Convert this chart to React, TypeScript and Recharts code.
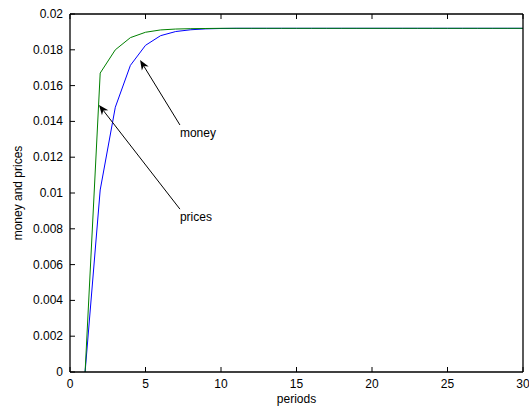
import React from "react";
import { LineChart, Line, XAxis, YAxis, ReferenceLine } from "recharts";

const periods = [
  1, 2, 3, 4, 5, 6, 7, 8, 9, 10, 11, 12, 13, 14, 15, 16, 17, 18, 19, 20, 21, 22,
  23, 24, 25, 26, 27, 28, 29, 30,
];
const prices = [
  0, 0.0167, 0.018, 0.01868, 0.01898, 0.01911, 0.01916, 0.01918, 0.01919, 0.0192,
  0.0192, 0.0192, 0.0192, 0.0192, 0.0192, 0.0192, 0.0192, 0.0192, 0.0192, 0.0192,
  0.0192, 0.0192, 0.0192, 0.0192, 0.0192, 0.0192, 0.0192, 0.0192, 0.0192, 0.0192,
];
const money = [
  0, 0.01017, 0.01479, 0.01713, 0.01825, 0.01879, 0.01902, 0.01912, 0.01917,
  0.01919, 0.0192, 0.0192, 0.0192, 0.0192, 0.0192, 0.0192, 0.0192, 0.0192, 0.0192,
  0.0192, 0.0192, 0.0192, 0.0192, 0.0192, 0.0192, 0.0192, 0.0192, 0.0192, 0.0192,
  0.0192,
];
const xTicks = [0, 5, 10, 15, 20, 25, 30];
const yTicks = [0, 0.002, 0.004, 0.006, 0.008, 0.01, 0.012, 0.014, 0.016, 0.018, 0.02];
const yTickLabels = [
  "0", "0.002", "0.004", "0.006", "0.008", "0.01", "0.012", "0.014", "0.016",
  "0.018", "0.02",
];

// annotation arrows: [tail, tip] in data units
const moneyArrow = [{ x: 7.28, y: 0.0138 }, { x: 4.64, y: 0.01743 }];
const pricesArrow = [{ x: 7.28, y: 0.0091 }, { x: 1.92, y: 0.01492 }];

const data = periods.map((p, i) => ({ period: p, prices: prices[i], money: money[i] }));

const FONT = "'Liberation Sans', Arial, Helvetica, sans-serif";
const FS = 12;
const TICK = 5;

function BottomTick({ x, y, payload }: any) {
  return (
    <g>
      <line x1={x} y1={y} x2={x} y2={y - TICK} stroke="#000" />
      <text x={x} y={y + 16} textAnchor="middle" fontSize={FS} fill="#000" fontFamily={FONT}>
        {payload.value}
      </text>
    </g>
  );
}

function TopTick({ x, y }: any) {
  return <line x1={x} y1={y} x2={x} y2={y + TICK} stroke="#000" />;
}

function LeftTick({ x, y, index }: any) {
  return (
    <g>
      <line x1={x} y1={y} x2={x + TICK} y2={y} stroke="#000" />
      <text x={x - 7} y={y + 4} textAnchor="end" fontSize={FS} fill="#000" fontFamily={FONT}>
        {yTickLabels[index]}
      </text>
    </g>
  );
}

function RightTick({ x, y }: any) {
  return <line x1={x} y1={y} x2={x - TICK} y2={y} stroke="#000" />;
}

function Arrow({ x1, y1, x2, y2, text }: any) {
  const dx = x2 - x1;
  const dy = y2 - y1;
  const len = Math.hypot(dx, dy);
  const ux = dx / len;
  const uy = dy / len;
  const L = 10;
  const W = 4;
  const N = 7;
  const bx = x2 - ux * L;
  const by = y2 - uy * L;
  const nx = x2 - ux * N;
  const ny = y2 - uy * N;
  const pts = [
    [x2, y2],
    [bx - uy * W, by + ux * W],
    [nx, ny],
    [bx + uy * W, by - ux * W],
  ]
    .map((p) => p.join(","))
    .join(" ");
  return (
    <g>
      <line x1={x1} y1={y1} x2={nx} y2={ny} stroke="#000" strokeWidth={1} />
      <polygon points={pts} fill="#000" />
      <text x={x1} y={y1 + 12} fontSize={FS} fill="#000" fontFamily={FONT}>
        {text}
      </text>
    </g>
  );
}

export default function App() {
  return (
    <div style={{ position: "absolute", left: 0, top: 0, background: "#fff" }}>
      <LineChart
        width={529}
        height={406}
        data={data}
        margin={{ top: 13, right: 5, bottom: 33, left: 69 }}
      >
        <XAxis
          dataKey="period"
          type="number"
          domain={[0, 30]}
          ticks={xTicks}
          height={1}
          tickSize={0}
          tickMargin={0}
          tickLine={false}
          axisLine={{ stroke: "#000", strokeWidth: 1.3 }}
          tick={(p: any) => <BottomTick {...p} />}
          interval={0}
          label={{
            content: ({ viewBox }: any) => (
              <text
                x={viewBox.x + viewBox.width / 2}
                y={viewBox.y + 31}
                textAnchor="middle"
                fontSize={FS}
                fill="#000"
                fontFamily={FONT}
              >
                periods
              </text>
            ),
          }}
        />
        <XAxis
          xAxisId="top"
          orientation="top"
          dataKey="period"
          type="number"
          domain={[0, 30]}
          ticks={xTicks}
          height={1}
          tickSize={0}
          tickMargin={0}
          tickLine={false}
          axisLine={{ stroke: "#000", strokeWidth: 1.3 }}
          tick={(p: any) => <TopTick {...p} />}
          interval={0}
        />
        <YAxis
          type="number"
          domain={[0, 0.02]}
          ticks={yTicks}
          width={1}
          tickSize={0}
          tickMargin={0}
          tickLine={false}
          axisLine={{ stroke: "#000", strokeWidth: 1.3 }}
          tick={(p: any) => <LeftTick {...p} />}
          interval={0}
          label={{
            content: ({ viewBox }: any) => {
              const cx = viewBox.x + viewBox.width - 48;
              const cy = viewBox.y + viewBox.height / 2;
              return (
                <text
                  x={cx}
                  y={cy}
                  transform={`rotate(-90, ${cx}, ${cy})`}
                  textAnchor="middle"
                  fontSize={FS}
                  fill="#000"
                  fontFamily={FONT}
                >
                  money and prices
                </text>
              );
            },
          }}
        />
        <YAxis
          yAxisId="right"
          orientation="right"
          type="number"
          domain={[0, 0.02]}
          ticks={yTicks}
          width={1}
          tickSize={0}
          tickMargin={0}
          tickLine={false}
          axisLine={{ stroke: "#000", strokeWidth: 1.3 }}
          tick={(p: any) => <RightTick {...p} />}
          interval={0}
        />
        <Line
          type="linear"
          dataKey="money"
          stroke="#0000ff"
          strokeWidth={1}
          dot={false}
          isAnimationActive={false}
        />
        <Line
          type="linear"
          dataKey="prices"
          stroke="#008000"
          strokeWidth={1}
          dot={false}
          isAnimationActive={false}
        />
        <ReferenceLine
          segment={moneyArrow}
          ifOverflow="visible"
          shape={(p: any) => <Arrow {...p} text="money" />}
        />
        <ReferenceLine
          segment={pricesArrow}
          ifOverflow="visible"
          shape={(p: any) => <Arrow {...p} text="prices" />}
        />
      </LineChart>
    </div>
  );
}
